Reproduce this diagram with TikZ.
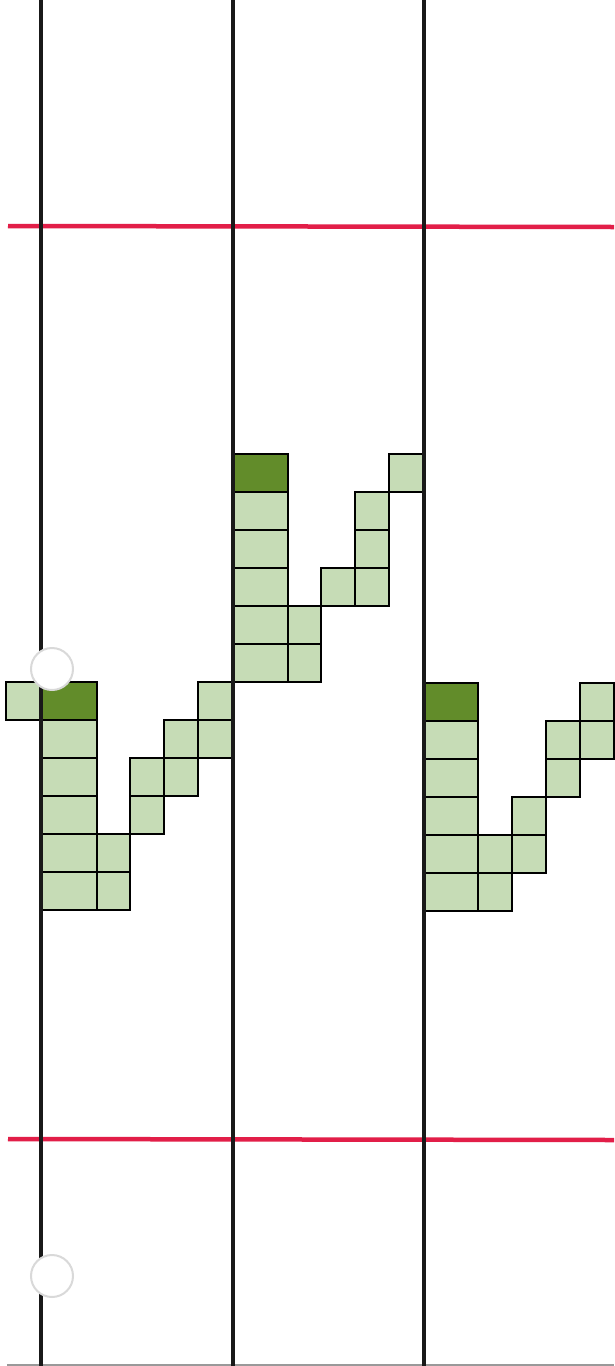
\documentclass[tikz,border=0pt]{standalone}
\definecolor{lightg}{RGB}{198,220,182}
\definecolor{darkg}{RGB}{98,140,42}
\definecolor{redl}{RGB}{226,30,72}
\tikzset{
  cellbox/.style={draw=black, line width=1.9pt},
  lightcell/.style={cellbox, fill=lightg},
  darkcell/.style={cellbox, fill=darkg},
  redline/.style={draw=redl, line width=4.5pt},
  blackline/.style={draw=black!90, line width=3.6pt},
  hole/.style={fill=white, draw=black!15, line width=2pt},
}
\newcommand{\lc}[4]{\path[lightcell] (#1,#2) rectangle (#3,#4);}
\newcommand{\dc}[4]{\path[darkcell] (#1,#2) rectangle (#3,#4);}
\begin{document}
\begin{tikzpicture}[x=1pt,y=-1pt]
\useasboundingbox[fill=white] (0,0) rectangle (614,1366);
% bottom faint edge
\draw[black!40, line width=1.5pt] (7,1365) -- (614,1365);
% red lines
\draw[redline] (8,226) -- (614,227);
\draw[redline] (8,1139) -- (614,1140);
% ---- panel 1 ----
\lc{6}{682}{41}{720}
\dc{41}{682}{97}{720}
\foreach \y in {720,758,796,834,872} {\lc{41}{\y}{97}{\y+38}}
\lc{97}{834}{130}{872} \lc{97}{872}{130}{910}
\lc{130}{758}{164}{796} \lc{130}{796}{164}{834}
\lc{164}{720}{198}{758} \lc{164}{758}{198}{796}
\lc{198}{682}{232}{720} \lc{198}{720}{232}{758}
% ---- panel 2 ----
\dc{233}{454}{288}{492}
\foreach \y in {492,530,568,606,644} {\lc{233}{\y}{288}{\y+38}}
\lc{288}{606}{321}{644} \lc{288}{644}{321}{682}
\lc{321}{568}{355}{606}
\lc{355}{492}{389}{530} \lc{355}{530}{389}{568} \lc{355}{568}{389}{606}
\lc{389}{454}{423}{492}
% ---- panel 3 ----
\dc{424}{683}{478}{721}
\foreach \y in {721,759,797,835,873} {\lc{424}{\y}{478}{\y+38}}
\lc{478}{835}{512}{873} \lc{478}{873}{512}{911}
\lc{512}{797}{546}{835} \lc{512}{835}{546}{873}
\lc{546}{721}{580}{759} \lc{546}{759}{580}{797}
\lc{580}{683}{614}{721} \lc{580}{721}{614}{759}
% vertical lines
\draw[blackline] (41,0) -- (41,1366);
\draw[blackline] (233,0) -- (233,1366);
\draw[blackline] (424,0) -- (424,1366);
% punched holes
\path[hole] (52,669) circle (21);
\path[hole] (52,1276) circle (21);
\end{tikzpicture}
\end{document}
